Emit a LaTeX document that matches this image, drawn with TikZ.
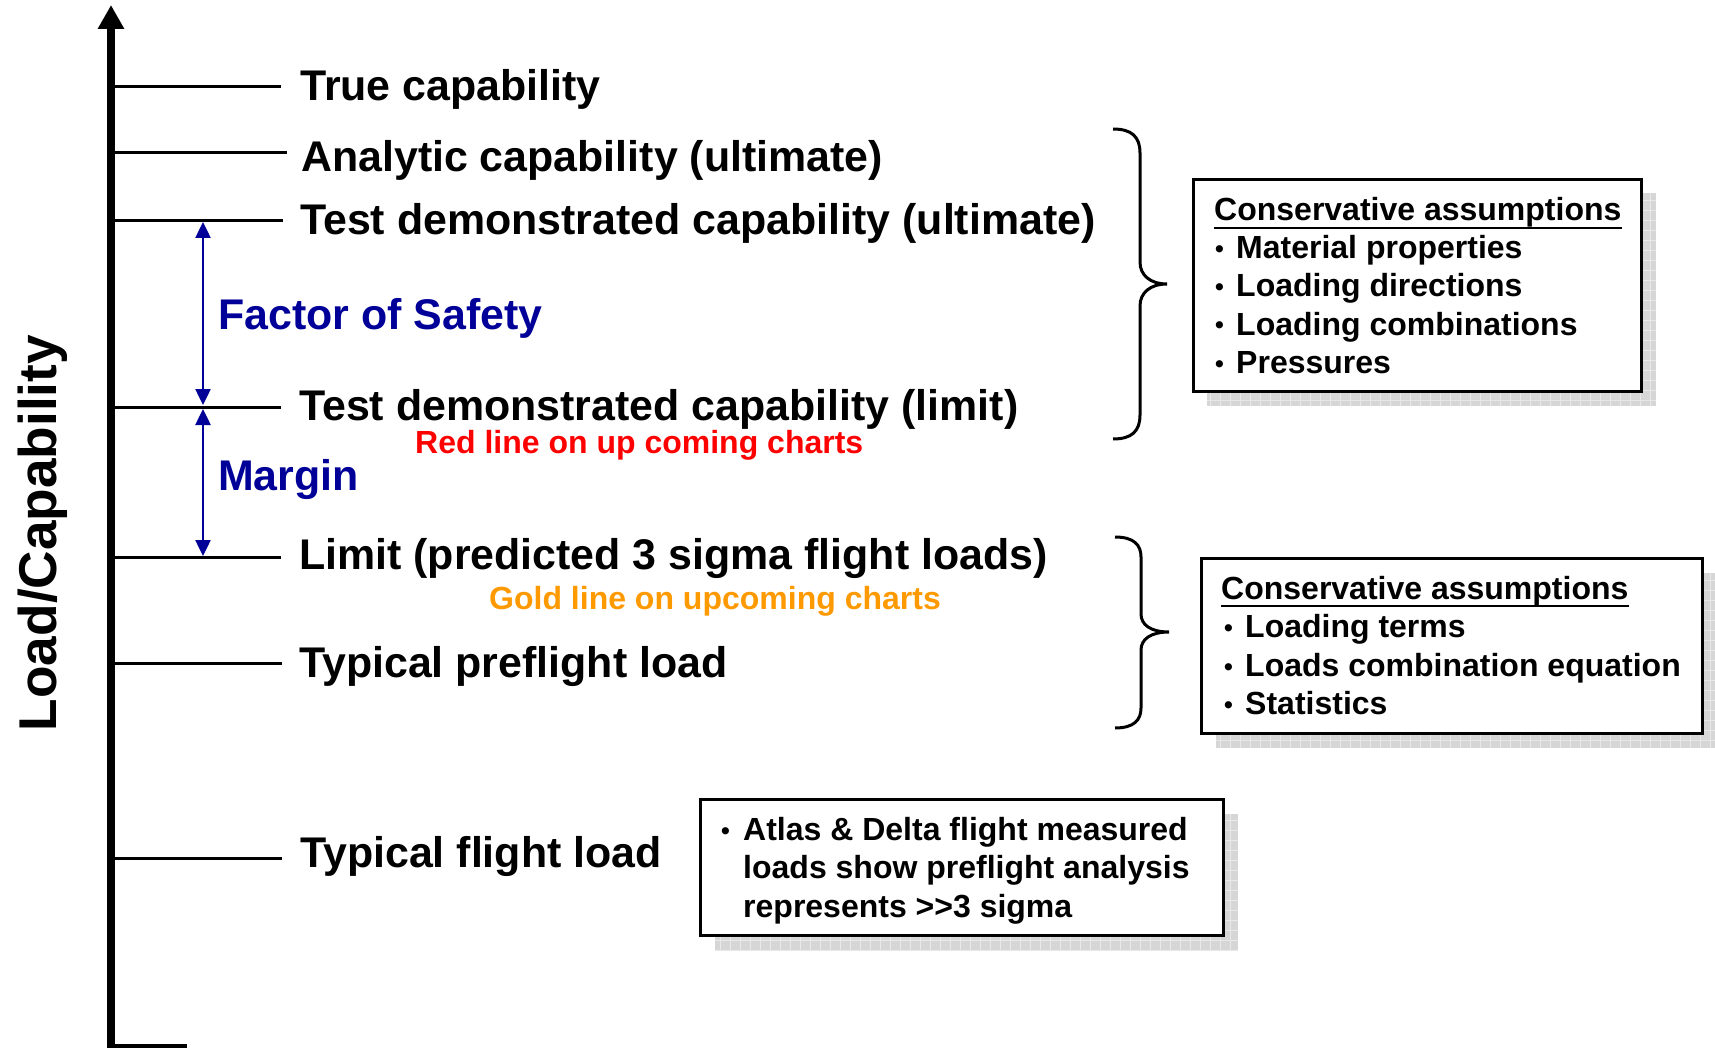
\documentclass[tikz,border=0pt]{standalone}
\usepackage{fontspec}
\setmainfont{Liberation Sans}
\usetikzlibrary{arrows.meta}
\definecolor{fosblue}{RGB}{0,0,153}
\definecolor{goldc}{RGB}{255,153,0}
\definecolor{redc}{RGB}{255,0,0}
\definecolor{shadowc}{RGB}{214,214,214}
\definecolor{gridc}{RGB}{232,232,232}
\begin{document}
\begin{tikzpicture}[x=1pt,y=-1pt,
  lbl/.style={anchor=base west, inner sep=0pt, font=\fontsize{42.9}{50}\selectfont\bfseries},
  sml/.style={anchor=base west, inner sep=0pt, font=\fontsize{32}{38}\selectfont\bfseries},
  bul/.style={anchor=base west, inner sep=0pt, font=\fontsize{25}{30}\selectfont\bfseries},
  tickline/.style={line width=3pt},
  bracepath/.style={line width=3pt},
  framebox/.style={draw, line width=3pt, fill=white, inner sep=0pt, anchor=north west},
  shadowfill/.style={fill=shadowc},
  shadowgrid/.style={draw=gridc, line width=0.8pt},
  dimarrow/.style={draw=fosblue, line width=2.5pt, {Triangle[length=16pt,width=15pt]}-{Triangle[length=16pt,width=15pt]}}
]
\useasboundingbox (0,0) rectangle (1715,1048);

% axis
\coordinate (axbot) at (111,1048);
\coordinate (axtop) at (111,5);
\coordinate (basea) at (107,1045.5);
\coordinate (baseb) at (187,1045.5);
\draw[line width=8pt, -{Triangle[length=24pt,width=25pt]}] (axbot) -- (axtop);
\draw[line width=4pt] (basea) -- (baseb);
\node[anchor=base, rotate=90, inner sep=0pt, font=\fontsize{53.2}{60}\selectfont\bfseries] (axl) at (56,533) {Load/Capability};

% ticks
\foreach \nm/\yy/\xe in {ta/87/281, tb/153/287, tc/221/283, td/407/281, te/557/281, tf/663/282, tg/858/282}{
  \coordinate (\nm1) at (113,\yy);
  \coordinate (\nm2) at (\xe,\yy);
  \draw[tickline] (\nm1) -- (\nm2);
}

% labels
\node[lbl] (l1) at (300,101) {True capability};
\node[lbl] (l2) at (301,172) {Analytic capability (ultimate)};
\node[lbl] (l3) at (300,235) {Test demonstrated capability (ultimate)};
\node[lbl, text=fosblue] (l4) at (218,330) {Factor of Safety};
\node[lbl] (l5) at (299,420) {Test demonstrated capability (limit)};
\node[sml, text=redc] (l6) at (415,453) {Red line on up coming charts};
\node[lbl, text=fosblue] (l7) at (218,490) {Margin};
\node[lbl] (l8) at (299,569) {Limit (predicted 3 sigma flight loads)};
\node[sml, text=goldc] (l9) at (489,609) {Gold line on upcoming charts};
\node[lbl] (l10) at (299,677) {Typical preflight load};
\node[lbl] (l11) at (300,867) {Typical flight load};

% dimension arrows
\coordinate (fa) at (203,222);
\coordinate (fb) at (203,405);
\coordinate (ma) at (203,409);
\coordinate (mb) at (203,556);
\draw[dimarrow] (fa) -- (fb);
\draw[dimarrow] (ma) -- (mb);

% braces
\draw[bracepath] (1113,129) .. controls (1132,129) and (1140,137) .. (1140,153) -- (1140,262)
  .. controls (1140,275) and (1150,284) .. (1167,284)
  .. controls (1150,284) and (1140,293) .. (1140,306) -- (1140,415)
  .. controls (1140,431) and (1132,439) .. (1113,439);
\draw[bracepath] (1115,537) .. controls (1134,537) and (1141,545) .. (1141,557) -- (1141,614)
  .. controls (1141,625) and (1151,632) .. (1169,632)
  .. controls (1151,632) and (1141,639) .. (1141,650) -- (1141,708)
  .. controls (1141,720) and (1134,728) .. (1115,728);

% box 1
\fill[shadowfill] (1207,193) rectangle (1656,406);
\draw[shadowgrid] (1207,193) grid[step=10pt] (1656,406);
\node[framebox, minimum width=448pt, minimum height=212pt] (box1) at (1192,178) {};
\node[sml] (b1t) at (1214,221) {Conservative assumptions};
\draw[line width=2.5pt] ([yshift=-7pt]b1t.base west) -- ([yshift=-7pt]b1t.base east);
\node[bul] (b1a) at (1215,258) {•};
\node[sml] (b1b) at (1236,259) {Material properties};
\node[bul] (b1c) at (1215,296) {•};
\node[sml] (b1d) at (1236,297) {Loading directions};
\node[bul] (b1e) at (1215,334) {•};
\node[sml] (b1f) at (1236,335) {Loading combinations};
\node[bul] (b1g) at (1215,372) {•};
\node[sml] (b1h) at (1236,373) {Pressures};

% box 2
\fill[shadowfill] (1216,573) rectangle (1715,748);
\draw[shadowgrid] (1216,573) grid[step=10pt] (1715,748);
\node[framebox, minimum width=501pt, minimum height=175pt] (box2) at (1200,557) {};
\node[sml] (b2t) at (1221,599) {Conservative assumptions};
\draw[line width=2.5pt] ([yshift=-7pt]b2t.base west) -- ([yshift=-7pt]b2t.base east);
\node[bul] (b2a) at (1224,636.5) {•};
\node[sml] (b2b) at (1245,637.5) {Loading terms};
\node[bul] (b2c) at (1224,675) {•};
\node[sml] (b2d) at (1245,676) {Loads combination equation};
\node[bul] (b2e) at (1224,713.5) {•};
\node[sml] (b2f) at (1245,714.5) {Statistics};

% box 3
\fill[shadowfill] (715,814) rectangle (1238,950);
\draw[shadowgrid] (715,814) grid[step=10pt] (1238,950);
\node[framebox, minimum width=523pt, minimum height=136pt] (box3) at (699,798) {};
\node[bul] (b3a) at (721,839) {•};
\node[sml] (b3b) at (743,840) {Atlas \& Delta flight measured};
\node[sml] (b3c) at (743,878.5) {loads show preflight analysis};
\node[sml] (b3d) at (743,917) {represents >{}>3 sigma};
\end{tikzpicture}
\end{document}
